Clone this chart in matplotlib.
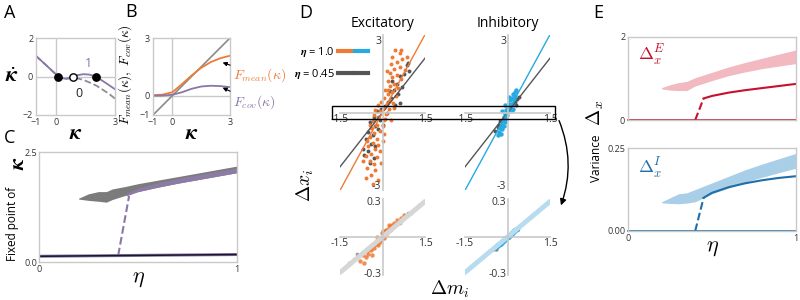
import matplotlib.pyplot as plt
import matplotlib.transforms as mtransforms
from matplotlib.legend_handler import HandlerTuple
from matplotlib.lines import Line2D
from matplotlib.patches import Rectangle, FancyArrowPatch
import numpy as np

plt.rcParams['font.family'] = ['Open Sans', 'DejaVu Sans']
plt.rcParams['mathtext.fontset'] = 'cm'

# ---- panel A: kappa dynamics
a_kappa = [-1, -0.5, 0, 0.13, 0.3, 0.5, 0.7, 0.89, 1.1, 1.4, 1.7, 2.02, 2.3, 2.6, 3.0]
a_kdot_eta1 = [1.07, 0.6, 0.12, 0, -0.08, -0.12, -0.08, 0, 0.07, 0.12, 0.1, 0, -0.18, -0.38, -0.66]
a_kappa0 = [-1, -0.5, 0, 0.13, 0.5, 0.89, 1.2, 1.5, 1.8, 2.1, 2.4, 2.7, 3.0]
a_kdot_eta0 = [1.07, 0.6, 0.12, 0, -0.12, -0.08, -0.12, -0.22, -0.35, -0.5, -0.7, -0.9, -1.15]
a_stable = [0.13, 2.02]
a_unstable = [0.89]

# ---- panel B: transfer functions
b_kappa = [-1, -0.5, 0, 0.5, 1, 1.5, 2, 2.5, 3]
b_fmean = [0.03, 0.06, 0.18, 0.6, 1.05, 1.45, 1.75, 1.95, 2.08]
b_fcov = [0.0, 0.01, 0.05, 0.18, 0.36, 0.48, 0.52, 0.5, 0.45]

# ---- panel C: fixed points of kappa vs eta
c_eta_gray = [0.2, 0.25, 0.3, 0.34, 0.37, 0.44, 0.5, 0.6, 0.7, 0.8, 0.9, 1.0]
c_gray_hi = [1.45, 1.55, 1.6, 1.6, 1.66, 1.72, 1.78, 1.86, 1.94, 2.02, 2.1, 2.18]
c_gray_lo = [1.43, 1.4, 1.38, 1.36, 1.42, 1.52, 1.6, 1.7, 1.79, 1.87, 1.95, 2.03]
c_eta_purple = [0.44, 0.5, 0.6, 0.7, 0.8, 0.9, 1.0]
c_purple_hi = [1.56, 1.68, 1.8, 1.9, 1.98, 2.06, 2.14]
c_purple_lo = [1.5, 1.6, 1.7, 1.79, 1.87, 1.95, 2.03]
c_jump_eta = [0.40, 0.455]
c_jump_k = [0.15, 1.5]
c_low_eta = [0, 1]
c_low_k = [0.13, 0.17]

# ---- panel D: scatter of delta x vs delta m
exc_eta1_x = [0.45, 0.6, 0.35, 0.7, 0.52, 0.3, 0.62, 0.42, 0.78, 0.25, 0.5, 0.35, 0.65, 0.18, 0.42,
              0.28, 0.55, 0.1, 0.35, 0.2, 0.48, 0.05, 0.25, -0.05, 0.15, 0.38, -0.15, 0.05, 0.22, -0.25,
              -0.08, 0.12, -0.3, -0.15, 0.05, -0.35, -0.2, 0.0, -0.4, -0.1, -0.3, 0.05, -0.45, -0.2,
              -0.35, 0.0, -0.5, -0.25, -0.1, -0.4, -0.6, -0.2, -0.45, -0.3, -0.05, -0.55, -0.25, -0.4,
              -0.6, -0.15, -0.35, 0.65, 0.15, -0.55, 0.3, 0.85, 0.4, -0.7, 0.2, -0.15, 0.1, -0.45]
exc_eta1_y = [2.6, 2.45, 2.3, 2.2, 2.1, 2.0, 1.9, 1.8, 1.75, 1.65, 1.55, 1.45, 1.4, 1.3, 1.2,
              1.1, 1.0, 0.95, 0.85, 0.75, 0.7, 0.6, 0.5, 0.45, 0.35, 0.4, 0.3, 0.2, 0.15, 0.1,
              0.05, -0.05, -0.1, -0.2, -0.3, -0.35, -0.5, -0.55, -0.65, -0.75, -0.85, -0.9, -1.0, -1.1,
              -1.25, -1.2, -1.4, -1.5, -1.6, -1.7, -1.8, -1.85, -2.0, -2.15, -2.1, -2.3, -2.4, -2.6,
              -2.7, -2.8, -2.95, 2.6, 1.7, -1.2, -0.3, 2.3, 0.2, -2.0, 0.95, -1.35, -0.25, -0.5]
exc_eta045_x = [0.85, 0.75, 0.6, 0.95, 0.5, 0.7, 0.4, 0.55, 0.3, 0.2, 0.45, 0.1, -0.05, 0.15, -0.2,
                -0.3, -0.1, -0.45, -0.25, -0.5, -0.35, -0.6, -0.4, -0.7, -0.5, -0.25, -0.65, -0.3,
                -0.45, 0.35, 0.9, 0.25, -0.15, 0.6, 0.0]
exc_eta045_y = [1.95, 1.6, 1.5, 1.7, 1.2, 1.05, 0.95, 0.75, 0.6, 0.45, 0.3, 0.25, 0.15, 0.0, 0.05,
                -0.2, -0.3, -0.4, -0.55, -0.8, -0.95, -1.1, -1.3, -1.5, -1.6, -1.4, -1.75, -1.9,
                -2.1, 1.3, 2.05, 0.9, -0.7, 0.4, -0.5]
inh_eta1_x = [0.3, 0.25, 0.2, 0.28, 0.15, 0.22, 0.1, 0.18, 0.05, 0.12, 0.0, 0.08, -0.05, 0.03, -0.1,
              -0.02, -0.12, -0.05, -0.15, -0.08, -0.2, -0.12, -0.25, -0.18, -0.3, -0.22, -0.2, 0.15,
              -0.35, 0.05, -0.1, 0.2]
inh_eta1_y = [0.95, 0.85, 0.75, 0.7, 0.6, 0.55, 0.5, 0.4, 0.35, 0.3, 0.2, 0.15, 0.1, 0.05, -0.05,
              -0.1, -0.2, -0.25, -0.35, -0.4, -0.5, -0.55, -0.65, -0.7, -0.8, -0.9, 0.05, 0.1,
              -0.95, 0.65, 0.3, 0.15]
inh_eta045_x = [0.35, 0.3, -0.3, -0.35, -0.45, 0.25, -0.25, 0.4]
inh_eta045_y = [0.55, 0.3, -0.5, -0.6, -0.75, 0.45, -0.35, 0.65]

exc_zoom_x = [-0.8, -0.7, -0.6, -0.55, -0.5, -0.45, -0.4, -0.35, -0.3, -0.25, -0.22, -0.18, -0.15, -0.1,
              -0.08, -0.05, 0.0, 0.03, 0.05, 0.08, 0.1, 0.12, 0.15, 0.18, 0.2, 0.25, 0.28, 0.3, 0.35,
              0.4, 0.45, 0.5, 0.55, 0.65, 0.75, -0.65, 0.0, -0.2, 0.22, -0.38, -0.12, 0.06, 0.14,
              -0.28, 0.32, -0.02, 0.1, -0.16]
exc_zoom_y = [-0.2, -0.15, -0.17, -0.12, -0.14, -0.1, -0.11, -0.08, -0.09, -0.06, -0.04, -0.06, -0.03,
              -0.04, -0.01, -0.02, 0.0, 0.02, -0.01, 0.03, 0.01, 0.04, 0.03, 0.05, 0.07, 0.06, 0.09,
              0.07, 0.1, 0.12, 0.1, 0.14, 0.12, 0.16, 0.19, -0.22, 0.05, 0.0, 0.1, -0.15, -0.02, 0.04,
              0.06, -0.05, 0.08, 0.03, 0.05, -0.07]
exc_zoom_gray_x = [-1.2, -1.0, -0.85, -0.7, -0.55, -0.4, 0.4, 0.6, 0.8, 1.0, 1.15, 1.3, -0.9, 0.9]
exc_zoom_gray_y = [-0.22, -0.19, -0.17, -0.13, -0.1, -0.07, 0.09, 0.12, 0.17, 0.2, 0.24, 0.27, -0.14, 0.2]
inh_zoom_x = [-0.38, -0.33, -0.28, -0.24, -0.2, -0.16, -0.12, -0.08, -0.04, 0.0, 0.04, 0.08, 0.12,
              0.16, 0.2, 0.24, 0.28, 0.32]
inh_zoom_y = [-0.08, -0.07, -0.06, -0.05, -0.045, -0.03, -0.025, -0.02, -0.005, 0.0, 0.01, 0.015,
              0.025, 0.035, 0.04, 0.05, 0.06, 0.065]
inh_zoom_gray_x = [-0.5, -0.45, -0.42]
inh_zoom_gray_y = [-0.1, -0.09, -0.1]

fit_slope_exc = {'1.0': 2.15, '0.45': 1.5}
fit_slope_inh = {'1.0': 2.15, '0.45': 1.5}
zoom_slope = 0.2

# ---- panel E: variances vs eta
e_eta_band = [0.2, 0.25, 0.3, 0.35, 0.4, 0.5, 0.6, 0.7, 0.8, 0.9, 1.0]
e_exc_hi = [0.78, 0.85, 0.9, 0.93, 1.02, 1.15, 1.28, 1.39, 1.49, 1.59, 1.69]
e_exc_lo = [0.75, 0.72, 0.71, 0.71, 0.82, 0.95, 1.07, 1.16, 1.24, 1.3, 1.36]
e_eta_line = [0.45, 0.5, 0.6, 0.7, 0.8, 0.9, 1.0]
e_exc_line = [0.52, 0.58, 0.66, 0.72, 0.77, 0.82, 0.87]
e_exc_jump = [0.0, 0.52]
e_eta_iband = [0.2, 0.25, 0.3, 0.35, 0.4, 0.45, 0.5, 0.6, 0.7, 0.8, 0.9, 1.0]
e_inh_hi = [0.088, 0.1, 0.112, 0.115, 0.125, 0.135, 0.145, 0.165, 0.185, 0.202, 0.218, 0.234]
e_inh_lo = [0.085, 0.083, 0.082, 0.084, 0.088, 0.1, 0.112, 0.13, 0.148, 0.162, 0.176, 0.189]
e_inh_line = [0.1, 0.115, 0.132, 0.144, 0.153, 0.16, 0.165]
e_inh_jump = [0.0, 0.1]
e_jump_eta = [0.4, 0.45]

# colours
frame_c = '#c9c9c9'
purple = '#8a76a8'
orange = '#ee7b35'
cyan = '#25aae2'
dgray = '#555555'
red = '#c8102e'
pink = '#f2b9c0'
blue = '#1f6ea8'
lblue = '#a9cfe8'

W, H = 800, 300
fig = plt.figure(figsize=(8, 3), dpi=100)


def box(x0, x1, y0, y1):
    return [x0 / W, 1 - y1 / H, (x1 - x0) / W, (y1 - y0) / H]


def ftext(x, y, s, **kw):
    fig.text(x / W, 1 - y / H, s, ha=kw.pop('ha', 'center'), va=kw.pop('va', 'center'), **kw)


def frame(ax):
    for s in ax.spines.values():
        s.set_color(frame_c)
        s.set_linewidth(1)
    ax.tick_params(length=0, labelsize=6.5, pad=2, colors='#333333')


# panel letters
for letter, x, y in [('A', 10, 13), ('B', 131, 12), ('C', 10, 138), ('D', 306, 13), ('E', 598, 13)]:
    ftext(x, y, letter, fontsize=13)

# ---------------- A
ax = fig.add_axes(box(36, 115, 38, 115))
frame(ax)
ax.axhline(0, color=frame_c, lw=1)
ax.axvline(0, color=frame_c, lw=1)
ax.plot(a_kappa0, a_kdot_eta0, '--', color='#8c8c9a', lw=1.3)
ax.plot(a_kappa, a_kdot_eta1, color=purple, lw=1.3)
ax.scatter(a_stable, np.zeros(len(a_stable)), s=28, color='k', zorder=5)
ax.scatter(a_unstable, np.zeros(len(a_unstable)), s=28, facecolor='white', edgecolor='k', lw=1, zorder=5)
ax.text(1.65, 0.7, '1', color=purple, fontsize=9, ha='center', va='center')
ax.text(1.15, -0.9, '0', color='#222222', fontsize=9, ha='center', va='center')
ax.set_xlim(-1, 3)
ax.set_ylim(-2, 2)
ax.set_xticks([-1, 0, 3])
ax.set_yticks([-2, 0, 2])
ax.set_xlabel(r'$\boldsymbol{\kappa}$', fontsize=16, labelpad=-3)
ax.set_ylabel(r'$\dot{\boldsymbol{\kappa}}$', fontsize=16, rotation=0, labelpad=8, va='center')

# ---------------- B
ax = fig.add_axes(box(153, 230, 38, 115))
frame(ax)
ax.axhline(0, color=frame_c, lw=1)
ax.axvline(0, color=frame_c, lw=1)
ax.plot([-1, 3], [-1, 3], color='#8a8a8a', lw=1.2)
ax.plot(b_kappa, b_fmean, color=orange, lw=1.3)
ax.plot(b_kappa, b_fcov, color=purple, lw=1.3)
ax.set_xlim(-1, 3)
ax.set_ylim(-1, 3)
ax.set_xticks([-1, 0, 3])
ax.set_yticks([-1, 0, 3])
ax.annotate(r'$F_{mean}(\kappa)$', xy=(2.55, b_fmean[7] - 0.2), xytext=(3.15, 1.05),
            color=orange, fontsize=10, ha='left', va='center', annotation_clip=False,
            arrowprops=dict(arrowstyle='-|>', color='k', lw=0.8, mutation_scale=6, shrinkA=0, shrinkB=1))
ax.annotate(r'$F_{cov}(\kappa)$', xy=(2.55, b_fcov[7] - 0.05), xytext=(3.15, -0.35),
            color=purple, fontsize=10, ha='left', va='center', annotation_clip=False,
            arrowprops=dict(arrowstyle='-|>', color='k', lw=0.8, mutation_scale=6, shrinkA=0, shrinkB=1))
ax.set_xlabel(r'$\boldsymbol{\kappa}$', fontsize=16, labelpad=-3)
ax.set_ylabel(r'$F_{mean}(\kappa),\ F_{cov}(\kappa)$', fontsize=9.5, labelpad=0)
ax.yaxis.set_label_coords(-0.25, 0.53)

# ---------------- C
ax = fig.add_axes(box(39, 237, 152, 262))
frame(ax)
ax.fill_between(c_eta_gray, c_gray_lo, c_gray_hi, color='#7b7b7b', lw=0)
ax.fill_between(c_eta_purple, c_purple_lo, c_purple_hi, color='#8c7ba6', lw=0)
ax.plot(c_jump_eta, c_jump_k, '--', color=purple, lw=1.5)
ax.plot(c_low_eta, c_low_k, color='#8c7ba6', lw=2.2)
ax.plot(c_low_eta, c_low_k, color='#1b1530', lw=1.1)
ax.set_xlim(0, 1)
ax.set_ylim(0, 2.5)
ax.set_xticks([0, 1])
ax.set_yticks([0, 2.5])
ax.set_yticklabels(['0.0', '2.5'])
ax.tick_params(axis='y', pad=1)
ax.set_xlabel(r'$\eta$', fontsize=16, labelpad=-4)
ftext(13, 224, 'Fixed point of', fontsize=8.5, rotation=90)
ftext(19, 163, r'$\boldsymbol{\kappa}$', fontsize=16, rotation=90)

# ---------------- D
def center_axes(ax, xl, yl, ylabels):
    for s in ['top', 'right']:
        ax.spines[s].set_visible(False)
    for s in ['left', 'bottom']:
        ax.spines[s].set_position('zero')
        ax.spines[s].set_color(frame_c)
        ax.spines[s].set_linewidth(1.2)
    ax.set_xlim(-xl, xl)
    ax.set_ylim(-yl * 1.07, yl * 1.07)
    ax.set_xticks([-xl, xl])
    ax.set_xticklabels(['-1.5', '1.5'])
    ax.set_yticks([-yl, yl])
    ax.set_yticklabels(ylabels)
    ax.tick_params(length=0, labelsize=7.5, pad=1, colors='#333333')
    ax.patch.set_alpha(0)


line_x = np.array([-1.5, 1.5])

ax_e = fig.add_axes(box(340, 425, 35, 190))
center_axes(ax_e, 1.5, 3, ['-3', '3'])
ax_e.scatter(exc_eta045_x, exc_eta045_y, s=8, color=dgray, lw=0)
ax_e.scatter(exc_eta1_x, exc_eta1_y, s=8, color=orange, lw=0)
ax_e.plot(line_x, fit_slope_exc['0.45'] * line_x, color=dgray, lw=1)
ax_e.plot(line_x, fit_slope_exc['1.0'] * line_x, color=orange, lw=1)
ax_e.set_title('Excitatory', fontsize=10, pad=6)

ax_i = fig.add_axes(box(465, 550, 35, 190))
center_axes(ax_i, 1.5, 3, ['-3', '3'])
ax_i.scatter(inh_eta045_x, inh_eta045_y, s=8, color=dgray, lw=0)
ax_i.scatter(inh_eta1_x, inh_eta1_y, s=10, color=cyan, lw=0)
ax_i.plot(line_x, fit_slope_inh['0.45'] * line_x, color=dgray, lw=1)
ax_i.plot(line_x, fit_slope_inh['1.0'] * line_x, color=cyan, lw=1)
ax_i.set_title('Inhibitory', fontsize=10, pad=6)

ax_ez = fig.add_axes(box(340, 425, 199, 275))
center_axes(ax_ez, 1.5, 0.3, ['-0.3', '0.3'])
ax_ez.plot(line_x, zoom_slope * line_x, color='#d6d6d6', lw=3.5, solid_capstyle='round')
ax_ez.scatter(exc_zoom_gray_x, exc_zoom_gray_y, s=7, color='#9a9a9a', lw=0)
ax_ez.scatter(exc_zoom_x, exc_zoom_y, s=10, color=orange, lw=0, alpha=0.85)

ax_iz = fig.add_axes(box(465, 550, 199, 275))
center_axes(ax_iz, 1.5, 0.3, ['-0.3', '0.3'])
ax_iz.plot(line_x, zoom_slope * line_x, color='#b7dbef', lw=3.5, solid_capstyle='round')
ax_iz.scatter(inh_zoom_gray_x, inh_zoom_gray_y, s=10, color='#7a8a90', lw=0)
ax_iz.scatter(inh_zoom_x, inh_zoom_y, s=16, color=cyan, lw=0)

# zoom window rectangle
zoom_win = 0.28
tr = mtransforms.blended_transform_factory(fig.transFigure, ax_e.transData)
fig.add_artist(Rectangle((332 / W, -zoom_win), (555 - 332) / W, 2 * zoom_win, transform=tr,
                         fill=False, ec='k', lw=1))
fig.add_artist(FancyArrowPatch(
    (558 / W, 1 - 118 / H), (560 / W, 1 - 208 / H), transform=fig.transFigure,
    connectionstyle='arc3,rad=-0.2', arrowstyle='-|>', mutation_scale=9, color='k', lw=1))

# legend
h1 = (Line2D([], [], color=orange, lw=3), Line2D([], [], color=cyan, lw=3))
h2 = (Line2D([], [], color=dgray, lw=3), Line2D([], [], color=dgray, lw=3))
fig.legend([h1, h2], [r'$\boldsymbol{\eta}$ = 1.0', r'$\boldsymbol{\eta}$ = 0.45'],
           handler_map={tuple: HandlerTuple(ndivide=None, pad=0.3)},
           loc='upper left', bbox_to_anchor=(294 / W, 1 - 45 / H), frameon=False,
           markerfirst=False, fontsize=8, handlelength=2.7, labelspacing=0.75,
           handletextpad=0.3, borderpad=0, borderaxespad=0)

ftext(305, 185, r'$\Delta x_i$', fontsize=14, rotation=90)
ftext(450, 289, r'$\Delta m_i$', fontsize=14)

# ---------------- E
ax = fig.add_axes(box(628, 796, 37, 120))
frame(ax)
ax.fill_between(e_eta_band, e_exc_lo, e_exc_hi, color=pink, lw=0)
ax.plot([0, 1], [0, 0], color=red, lw=1.2, clip_on=False)
ax.plot(e_jump_eta, e_exc_jump, '--', color=red, lw=1.5)
ax.plot(e_eta_line, e_exc_line, color=red, lw=1.5)
ax.text(0.06, 0.78, r'$\Delta_x^E$', transform=ax.transAxes, color=red, fontsize=13, va='center')
ax.set_xlim(0, 1)
ax.set_ylim(0, 2)
ax.set_xticks([])
ax.set_yticks([0, 2])

ax = fig.add_axes(box(628, 796, 148, 231))
frame(ax)
ax.fill_between(e_eta_iband, e_inh_lo, e_inh_hi, color=lblue, lw=0)
ax.plot([0, 1], [0, 0], color=blue, lw=1.2, clip_on=False)
ax.plot(e_jump_eta, e_inh_jump, '--', color=blue, lw=1.5)
ax.plot(e_eta_line, e_inh_line, color=blue, lw=1.5)
ax.text(0.06, 0.75, r'$\Delta_x^I$', transform=ax.transAxes, color=blue, fontsize=13, va='center')
ax.set_xlim(0, 1)
ax.set_ylim(0, 0.25)
ax.set_xticks([0, 1])
ax.set_yticks([0, 0.25])
ax.set_yticklabels(['0.00', '0.25'])
ax.set_xlabel(r'$\eta$', fontsize=16, labelpad=-4)

ftext(597, 158, 'Variance', fontsize=8.5, rotation=90)
ftext(595, 113, r'$\Delta_x$', fontsize=14, rotation=90)

fig.savefig('out.png', dpi=100)
